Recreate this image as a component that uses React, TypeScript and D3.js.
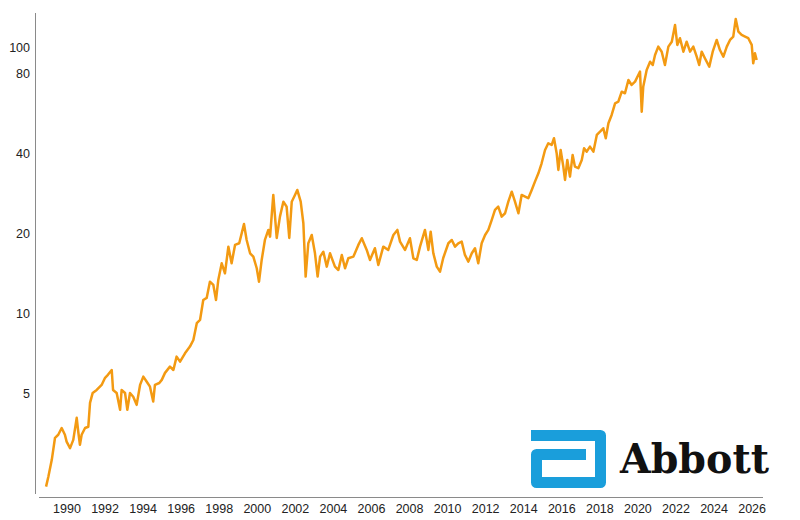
import React from "react";
import * as d3 from "d3";

const years: number[] = [
  1988.9, 1989.02, 1989.2, 1989.37, 1989.54, 1989.72, 1989.89, 1989.98, 1990.16, 1990.33,
  1990.51, 1990.59, 1990.68, 1990.77, 1990.95, 1991.12, 1991.21, 1991.35, 1991.56, 1991.82,
  1992.0, 1992.15, 1992.35, 1992.42, 1992.61, 1992.79, 1992.87, 1993.05, 1993.17, 1993.31,
  1993.48, 1993.66, 1993.84, 1994.01, 1994.19, 1994.36, 1994.53, 1994.62, 1994.85, 1994.98,
  1995.15, 1995.41, 1995.59, 1995.76, 1995.94, 1996.2, 1996.46, 1996.64, 1996.82, 1996.99,
  1997.16, 1997.34, 1997.51, 1997.69, 1997.83, 1997.95, 1998.13, 1998.3, 1998.48, 1998.65,
  1998.83, 1999.05, 1999.18, 1999.3, 1999.44, 1999.62, 1999.79, 1999.97, 2000.09, 2000.23,
  2000.4, 2000.58, 2000.67, 2000.84, 2001.02, 2001.19, 2001.37, 2001.54, 2001.68, 2001.81,
  2001.98, 2002.1, 2002.28, 2002.42, 2002.54, 2002.68, 2002.86, 2003.03, 2003.17, 2003.3,
  2003.47, 2003.65, 2003.82, 2004.08, 2004.26, 2004.44, 2004.61, 2004.78, 2005.05, 2005.31,
  2005.49, 2005.75, 2005.92, 2006.18, 2006.36, 2006.62, 2006.88, 2007.15, 2007.36, 2007.5,
  2007.76, 2008.02, 2008.2, 2008.38, 2008.55, 2008.81, 2008.99, 2009.11, 2009.25, 2009.43,
  2009.6, 2009.77, 2010.04, 2010.22, 2010.39, 2010.56, 2010.74, 2010.91, 2011.09, 2011.27,
  2011.44, 2011.61, 2011.79, 2011.97, 2012.14, 2012.32, 2012.49, 2012.66, 2012.84, 2013.02,
  2013.19, 2013.37, 2013.54, 2013.72, 2013.89, 2014.07, 2014.24, 2014.42, 2014.59, 2014.77,
  2014.94, 2015.12, 2015.29, 2015.47, 2015.59, 2015.73, 2015.82, 2015.94, 2016.08, 2016.17,
  2016.29, 2016.43, 2016.57, 2016.69, 2016.87, 2017.05, 2017.17, 2017.31, 2017.48, 2017.66,
  2017.84, 2018.01, 2018.18, 2018.31, 2018.45, 2018.62, 2018.8, 2018.97, 2019.15, 2019.32,
  2019.5, 2019.67, 2019.85, 2020.02, 2020.11, 2020.2, 2020.28, 2020.46, 2020.64, 2020.78,
  2020.9, 2021.07, 2021.25, 2021.42, 2021.6, 2021.78, 2021.95, 2022.07, 2022.21, 2022.39,
  2022.56, 2022.74, 2022.91, 2023.09, 2023.22, 2023.35, 2023.52, 2023.75, 2023.93, 2024.14,
  2024.31, 2024.49, 2024.67, 2024.84, 2025.01, 2025.14, 2025.28, 2025.45, 2025.63, 2025.8,
  2025.98, 2026.06, 2026.15, 2026.24,
];

const prices: number[] = [
  2.22, 2.42, 2.8, 3.39, 3.48, 3.69, 3.48, 3.28, 3.1, 3.33,
  4.03, 3.58, 3.19, 3.48, 3.69, 3.73, 4.59, 5.0, 5.13, 5.36,
  5.7, 5.85, 6.1, 5.13, 5.0, 4.32, 5.13, 5.0, 4.32, 5.0,
  4.84, 4.51, 5.36, 5.76, 5.51, 5.28, 4.64, 5.36, 5.45, 5.6,
  5.95, 6.28, 6.1, 6.85, 6.56, 7.05, 7.47, 7.91, 9.15, 9.41,
  11.19, 11.39, 13.11, 12.75, 11.19, 13.31, 15.38, 14.1, 17.76, 15.38,
  18.03, 18.29, 19.95, 21.62, 18.82, 16.77, 16.29, 14.73, 13.11, 15.83,
  18.82, 20.53, 19.37, 27.8, 19.15, 23.04, 26.22, 25.12, 19.15, 26.22,
  27.8, 29.03, 26.22, 21.75, 13.7, 18.29, 19.65, 16.77, 13.7, 16.29,
  17.0, 14.94, 16.77, 14.94, 14.51, 16.53, 14.73, 16.06, 16.29, 18.03,
  19.11, 17.26, 15.83, 17.52, 15.16, 17.76, 17.26, 19.65, 20.53, 18.55,
  17.26, 19.11, 16.06, 15.83, 17.76, 20.53, 17.26, 20.22, 16.77, 14.94,
  14.3, 16.1, 18.29, 18.82, 17.76, 18.29, 18.55, 16.53, 15.6, 16.77,
  17.52, 15.38, 18.29, 19.65, 20.53, 22.39, 24.41, 25.12, 23.04, 23.72,
  26.22, 28.6, 26.22, 23.72, 27.8, 27.4, 27.02, 29.03, 31.19, 33.54,
  36.58, 41.05, 43.5, 42.87, 45.44, 39.9, 34.52, 41.05, 35.53, 31.66,
  37.65, 32.58, 39.31, 35.53, 35.04, 37.65, 41.67, 40.45, 42.24, 40.45,
  46.75, 48.09, 49.54, 45.44, 51.74, 55.6, 61.52, 62.38, 68.0, 67.08,
  75.29, 72.1, 74.2, 78.61, 80.9, 57.2, 71.06, 82.1, 88.2, 85.74,
  93.5, 100.5, 96.2, 85.74, 100.5, 104.9, 121.3, 102.0, 108.1, 96.2,
  104.9, 96.2, 100.5, 92.1, 85.74, 96.2, 90.9, 84.5, 96.2, 106.5,
  97.6, 92.1, 100.5, 106.5, 109.6, 127.8, 114.4, 111.2, 109.6, 108.1,
  102.0, 87.0, 94.9, 89.5,
];

const yTickValues: number[] = [5, 10, 20, 40, 80, 100];
const xTickYears: number[] = [1990, 1992, 1994, 1996, 1998, 2000, 2002, 2004, 2006, 2008, 2010, 2012, 2014, 2016, 2018, 2020, 2022, 2024, 2026];
const logoText = "Abbott";

const W = 800;
const H = 520;

export default function App() {
  const x = d3.scaleLinear().domain([1990, 2026]).range([67, 752.1]);
  const y = d3.scaleLog().domain([2.083, 134.5]).range([494, 13]);

  const data = years.map((yr, i) => ({ yr, v: prices[i] }));
  const line = d3
    .line<{ yr: number; v: number }>()
    .x((d) => x(d.yr))
    .y((d) => y(d.v));

  const font = "'Liberation Sans', Arial, sans-serif";

  return (
    <svg
      width={W}
      height={H}
      style={{ position: "absolute", left: 0, top: 0, background: "#fff" }}
    >
      <line x1={35.5} x2={35.5} y1={13} y2={494} stroke="#8a8a8a" strokeWidth={1} />
      <line x1={39} x2={763} y1={497.5} y2={497.5} stroke="#8a8a8a" strokeWidth={1} />

      {yTickValues.map((t) => (
        <text
          key={t}
          x={30}
          y={y(t) + 1}
          textAnchor="end"
          dominantBaseline="central"
          fontFamily={font}
          fontSize={12.5}
          fill="#222"
        >
          {t}
        </text>
      ))}
      {xTickYears.map((t) => (
        <text
          key={t}
          x={x(t)}
          y={513}
          textAnchor="middle"
          fontFamily={font}
          fontSize={12.5}
          fill="#222"
        >
          {t}
        </text>
      ))}

      <path
        d="M531,435.5 H600.5 V482.5 H536.5 V454.5 H586"
        fill="none"
        stroke="#1a9edb"
        strokeWidth={11}
        strokeLinejoin="round"
        strokeLinecap="butt"
      />
      <text
        x={620}
        y={473}
        fontFamily="'DejaVu Serif', 'Liberation Serif', serif"
        fontWeight="bold"
        fontSize={41}
        fill="#111"
        textLength={149}
        lengthAdjust="spacingAndGlyphs"
      >
        {logoText}
      </text>

      <path
        d={line(data) || ""}
        fill="none"
        stroke="#F39A12"
        strokeWidth={2.5}
        strokeLinejoin="round"
      />
    </svg>
  );
}
